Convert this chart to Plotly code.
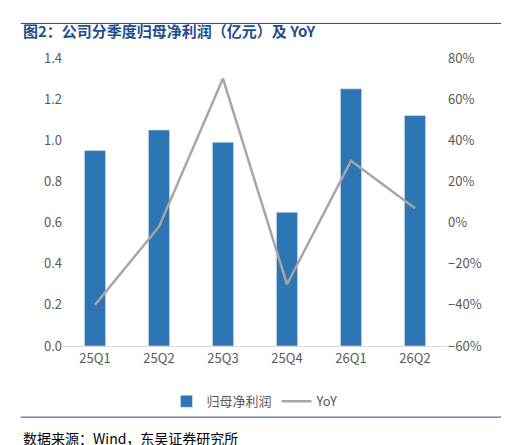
import plotly.graph_objects as go

quarters = ["25Q1", "25Q2", "25Q3", "25Q4", "26Q1", "26Q2"]
net_profit = [0.95, 1.05, 0.99, 0.65, 1.25, 1.12]
yoy = [-0.40, -0.02, 0.70, -0.30, 0.30, 0.07]

fig = go.Figure()
fig.add_trace(go.Bar(x=quarters, y=net_profit, name="归母净利润",
                     marker_color="#2e75b6", width=0.33))
fig.add_trace(go.Scatter(x=quarters, y=yoy, name="YoY", mode="lines",
                         line=dict(color="#a6a6a6", width=2.5), yaxis="y2"))

font = "Noto Sans CJK SC"
fig.update_layout(
    width=509, height=445,
    margin=dict(l=55, r=70, t=50, b=107),
    paper_bgcolor="white", plot_bgcolor="white",
    font=dict(family=font, size=13, color="#595959"),
    showlegend=True,
    legend=dict(orientation="h", x=0.5, xanchor="center", y=-0.14, yanchor="top",
                font=dict(size=13, color="#595959")),
    yaxis=dict(range=[0, 1.4], dtick=0.2, tickformat=".1f", showgrid=False,
               zeroline=False, ticks="", showline=False),
    yaxis2=dict(range=[-0.6, 0.8], dtick=0.2, tickformat=".0%", overlaying="y",
                side="right", showgrid=False, zeroline=False),
    xaxis=dict(showline=True, linecolor="#d9d9d9", ticks=""),
    bargap=0.5,
)
fig.add_annotation(text="<b>图2：公司分季度归母净利润（亿元）及 YoY</b>", xref="paper", yref="paper",
                   x=-0.11, y=1.0, yshift=40, xanchor="left", yanchor="top", showarrow=False,
                   font=dict(size=15, color="#1f4e8c", family=font))
fig.add_annotation(text="数据来源：Wind，东吴证券研究所", xref="paper", yref="paper",
                   x=-0.11, y=0, yshift=-80, xanchor="left", yanchor="top", showarrow=False,
                   font=dict(size=14, color="#000000", family=font))
fig.add_shape(type="line", xref="paper", yref="paper", x0=-0.11, x1=1.17, y0=1.12, y1=1.12,
              line=dict(color="#1f4e8c", width=1))
fig.add_shape(type="line", xref="paper", yref="paper", x0=-0.11, x1=1.17,
              y0=-0.247, y1=-0.247, line=dict(color="#1f4e8c", width=1))
fig.write_html("out.html")
